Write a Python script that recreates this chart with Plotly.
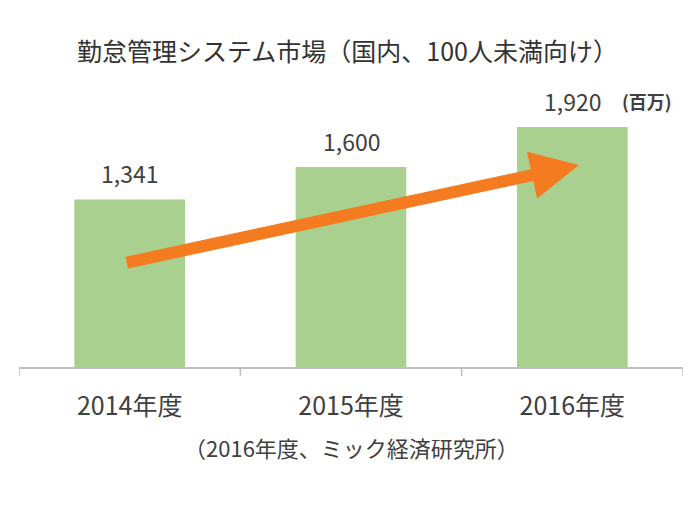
import plotly.graph_objects as go

categories = ["2014年度", "2015年度", "2016年度"]
values = [1341, 1600, 1920]
value_labels = ["1,341", "1,600", "1,920"]
title_text = "勤怠管理システム市場（国内、100人未満向け）"
source_text = "（2016年度、ミック経済研究所）"
unit_text = "(百万)"

FONT = "Noto Sans CJK JP, Noto Sans, sans-serif"
fig = go.Figure()
fig.add_trace(go.Bar(
    x=[0, 1, 2], y=values, marker=dict(color="#A9D08E", line=dict(width=0)),
    width=0.5, hoverinfo="skip",
))

fig.update_layout(
    width=700, height=520,
    margin=dict(l=19, r=17, t=117, b=153),
    paper_bgcolor="white", plot_bgcolor="white",
    showlegend=False,
    font=dict(family=FONT, color="#404040"),
)
fig.update_xaxes(
    range=[-0.5, 2.5], tickmode="array", tickvals=[0, 1, 2], ticktext=categories,
    showline=True, linecolor="#BFBFBF", linewidth=1.5,
    showgrid=False, ticks="", tickfont=dict(size=25, color="#404040"),
    ticklabelstandoff=16, zeroline=False,
)
fig.update_yaxes(range=[0, 2000], visible=False, showgrid=False, zeroline=False)

# value labels above bars
for i, (v, lab) in enumerate(zip(values, value_labels)):
    fig.add_annotation(text=lab, xref="x", yref="y", x=i, y=v, yshift=26,
                       xanchor="center", yanchor="middle", showarrow=False,
                       font=dict(size=23, color="#404040"))

# category boundary tick marks
for xb in [-0.5, 0.5, 1.5, 2.5]:
    fig.add_shape(type="line", xref="x", yref="paper", x0=xb, x1=xb, y0=0, y1=-0.036,
                  line=dict(color="#BFBFBF", width=1.5))

fig.add_annotation(text=title_text, xref="paper", yref="paper", x=0.085, y=1.0,
                   yshift=67, xanchor="left", yanchor="middle", showarrow=False,
                   font=dict(size=25, color="#333333"))
fig.add_annotation(text=source_text, xref="paper", yref="paper", x=0.5, y=0,
                   yshift=-80, xanchor="center", yanchor="middle", showarrow=False,
                   font=dict(size=22, color="#404040"))
fig.add_annotation(text="<b>" + unit_text + "</b>", xref="x", yref="y", x=2, y=values[2],
                   xshift=75, yshift=26, xanchor="center", yanchor="middle", showarrow=False,
                   font=dict(size=18, color="#404040"))

# trend arrow
fig.add_annotation(x=2.03, y=1616, ax=-0.02, ay=832, xref="x", yref="y", axref="x", ayref="y",
                   text="", showarrow=True, arrowhead=2, arrowsize=0.8, arrowwidth=12,
                   arrowcolor="#F47B20", standoff=0, startstandoff=0)

fig.write_html("out.html")
